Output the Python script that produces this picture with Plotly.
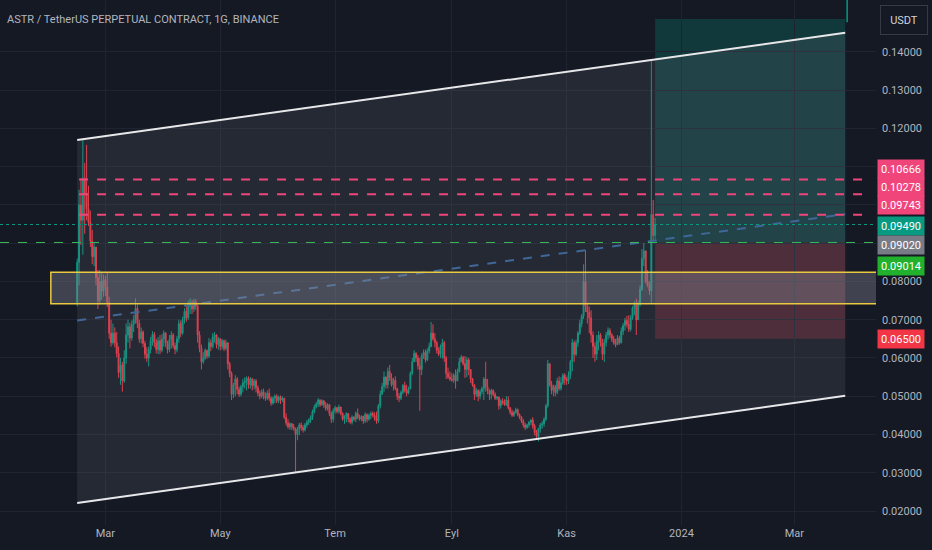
import pandas as pd
import plotly.graph_objects as go

# daily ASTR/USDT candles, starting 2023-02-14
start_date = "2023-02-14"
first_open = 0.0745
close = [
    0.0850, 0.1000, 0.0960, 0.1070, 0.1030, 0.0990, 0.0955, 0.0905, 0.0865, 0.0890,
    0.0810, 0.0750, 0.0800, 0.0775, 0.0805, 0.0785, 0.0745, 0.0665, 0.0640, 0.0665,
    0.0640, 0.0612, 0.0562, 0.0582, 0.0540, 0.0600, 0.0660, 0.0682, 0.0652, 0.0688,
    0.0700, 0.0730, 0.0690, 0.0650, 0.0668, 0.0638, 0.0610, 0.0600, 0.0622, 0.0645,
    0.0662, 0.0640, 0.0622, 0.0645, 0.0620, 0.0650, 0.0665, 0.0640, 0.0622, 0.0648,
    0.0660, 0.0632, 0.0622, 0.0650, 0.0690, 0.0665, 0.0700, 0.0722, 0.0705, 0.0735,
    0.0745, 0.0728, 0.0748, 0.0735, 0.0660, 0.0625, 0.0590, 0.0600, 0.0620, 0.0605,
    0.0640, 0.0630, 0.0655, 0.0660, 0.0635, 0.0650, 0.0630, 0.0645, 0.0625, 0.0640,
    0.0585, 0.0560, 0.0505, 0.0530, 0.0545, 0.0518, 0.0505, 0.0525, 0.0535, 0.0540,
    0.0547, 0.0530, 0.0545, 0.0528, 0.0540, 0.0522, 0.0508, 0.0500, 0.0512, 0.0500,
    0.0495, 0.0508, 0.0495, 0.0482, 0.0495, 0.0500, 0.0488, 0.0498, 0.0490, 0.0495,
    0.0445, 0.0430, 0.0420, 0.0428, 0.0420, 0.0415, 0.0400, 0.0415, 0.0425, 0.0418,
    0.0412, 0.0425, 0.0432, 0.0438, 0.0445, 0.0460, 0.0472, 0.0480, 0.0490, 0.0478,
    0.0488, 0.0478, 0.0468, 0.0478, 0.0455, 0.0440, 0.0462, 0.0470, 0.0460, 0.0472,
    0.0455, 0.0440, 0.0448, 0.0455, 0.0440, 0.0432, 0.0445, 0.0440, 0.0455, 0.0445,
    0.0440, 0.0448, 0.0435, 0.0452, 0.0440, 0.0450, 0.0455, 0.0450, 0.0442, 0.0436,
    0.0475, 0.0505, 0.0525, 0.0550, 0.0530, 0.0565, 0.0548, 0.0530, 0.0542, 0.0520,
    0.0500, 0.0495, 0.0510, 0.0528, 0.0515, 0.0508, 0.0520, 0.0560, 0.0590, 0.0612,
    0.0600, 0.0580, 0.0570, 0.0605, 0.0615, 0.0595, 0.0618, 0.0630, 0.0665, 0.0650,
    0.0640, 0.0620, 0.0610, 0.0630, 0.0640, 0.0600, 0.0560, 0.0550, 0.0545, 0.0542,
    0.0555, 0.0540, 0.0565, 0.0590, 0.0602, 0.0585, 0.0570, 0.0595, 0.0570, 0.0545,
    0.0530, 0.0505, 0.0515, 0.0500, 0.0512, 0.0520, 0.0545, 0.0525, 0.0515, 0.0505,
    0.0515, 0.0505, 0.0495, 0.0498, 0.0475, 0.0488, 0.0482, 0.0478, 0.0490, 0.0470,
    0.0458, 0.0450, 0.0458, 0.0465, 0.0452, 0.0445, 0.0435, 0.0425, 0.0418, 0.0425,
    0.0432, 0.0438, 0.0422, 0.0405, 0.0395, 0.0415, 0.0425, 0.0428, 0.0440, 0.0475,
    0.0585, 0.0530, 0.0515, 0.0525, 0.0510, 0.0540, 0.0520, 0.0535, 0.0555, 0.0545,
    0.0540, 0.0555, 0.0590, 0.0640, 0.0610, 0.0640, 0.0665, 0.0690, 0.0710, 0.0800,
    0.0735, 0.0720, 0.0705, 0.0660, 0.0630, 0.0610, 0.0645, 0.0660, 0.0640, 0.0610,
    0.0640, 0.0660, 0.0672, 0.0660, 0.0650, 0.0640, 0.0635, 0.0652, 0.0640, 0.0670,
    0.0685, 0.0698, 0.0688, 0.0675, 0.0705, 0.0730, 0.0740, 0.0700, 0.0740, 0.0780,
    0.0860, 0.0880, 0.0800, 0.0790, 0.0775, 0.0975, 0.0920, 0.0949,
]
high = [
    0.0860, 0.1040, 0.1070, 0.1170, 0.1110, 0.1157, 0.1050, 0.0985, 0.0935, 0.0900,
    0.0890, 0.0830, 0.0830, 0.0822, 0.0818, 0.0815, 0.0822, 0.0760, 0.0700, 0.0690,
    0.0680, 0.0668, 0.0630, 0.0600, 0.0590, 0.0620, 0.0690, 0.0700, 0.0692, 0.0698,
    0.0712, 0.0756, 0.0740, 0.0700, 0.0680, 0.0672, 0.0645, 0.0628, 0.0630, 0.0655,
    0.0670, 0.0668, 0.0650, 0.0655, 0.0660, 0.0662, 0.0672, 0.0668, 0.0645, 0.0660,
    0.0670, 0.0665, 0.0640, 0.0658, 0.0700, 0.0698, 0.0708, 0.0730, 0.0735, 0.0750,
    0.0756, 0.0752, 0.0755, 0.0754, 0.0740, 0.0670, 0.0635, 0.0615, 0.0625, 0.0622,
    0.0652, 0.0648, 0.0665, 0.0668, 0.0662, 0.0655, 0.0652, 0.0650, 0.0648, 0.0648,
    0.0635, 0.0590, 0.0565, 0.0535, 0.0555, 0.0550, 0.0525, 0.0530, 0.0545, 0.0550,
    0.0552, 0.0552, 0.0550, 0.0548, 0.0545, 0.0545, 0.0528, 0.0515, 0.0518, 0.0520,
    0.0510, 0.0515, 0.0520, 0.0500, 0.0500, 0.0505, 0.0505, 0.0502, 0.0502, 0.0500,
    0.0495, 0.0455, 0.0440, 0.0432, 0.0430, 0.0428, 0.0418, 0.0420, 0.0430, 0.0432,
    0.0425, 0.0430, 0.0438, 0.0442, 0.0450, 0.0465, 0.0478, 0.0485, 0.0495, 0.0492,
    0.0492, 0.0490, 0.0485, 0.0482, 0.0480, 0.0460, 0.0468, 0.0475, 0.0472, 0.0478,
    0.0470, 0.0458, 0.0450, 0.0458, 0.0455, 0.0445, 0.0450, 0.0448, 0.0460, 0.0468,
    0.0452, 0.0450, 0.0448, 0.0458, 0.0455, 0.0455, 0.0460, 0.0460, 0.0458, 0.0460,
    0.0480, 0.0515, 0.0535, 0.0565, 0.0552, 0.0575, 0.0582, 0.0560, 0.0548, 0.0552,
    0.0522, 0.0508, 0.0515, 0.0532, 0.0538, 0.0530, 0.0525, 0.0565, 0.0600, 0.0620,
    0.0615, 0.0608, 0.0600, 0.0612, 0.0622, 0.0622, 0.0625, 0.0640, 0.0694, 0.0688,
    0.0665, 0.0645, 0.0628, 0.0635, 0.0650, 0.0645, 0.0605, 0.0575, 0.0565, 0.0560,
    0.0560, 0.0570, 0.0572, 0.0600, 0.0608, 0.0605, 0.0605, 0.0603, 0.0600, 0.0570,
    0.0548, 0.0528, 0.0522, 0.0518, 0.0518, 0.0525, 0.0550, 0.0590, 0.0545, 0.0518,
    0.0520, 0.0518, 0.0510, 0.0500, 0.0498, 0.0492, 0.0495, 0.0492, 0.0500, 0.0500,
    0.0472, 0.0465, 0.0462, 0.0470, 0.0468, 0.0455, 0.0448, 0.0440, 0.0430, 0.0428,
    0.0435, 0.0440, 0.0445, 0.0428, 0.0412, 0.0418, 0.0430, 0.0435, 0.0445, 0.0480,
    0.0595, 0.0580, 0.0540, 0.0530, 0.0530, 0.0548, 0.0552, 0.0550, 0.0560, 0.0560,
    0.0550, 0.0565, 0.0595, 0.0650, 0.0645, 0.0648, 0.0670, 0.0700, 0.0715, 0.0845,
    0.0882, 0.0745, 0.0735, 0.0725, 0.0670, 0.0640, 0.0660, 0.0670, 0.0665, 0.0650,
    0.0650, 0.0668, 0.0680, 0.0678, 0.0665, 0.0658, 0.0650, 0.0660, 0.0658, 0.0680,
    0.0692, 0.0705, 0.0710, 0.0712, 0.0712, 0.0735, 0.0748, 0.0755, 0.0750, 0.0790,
    0.0885, 0.0901, 0.0865, 0.0830, 0.0800, 0.1379, 0.1013, 0.0966,
]
low = [
    0.0735, 0.0790, 0.0895, 0.0870, 0.0925, 0.0960, 0.0945, 0.0890, 0.0845, 0.0840,
    0.0790, 0.0728, 0.0740, 0.0752, 0.0760, 0.0762, 0.0733, 0.0650, 0.0630, 0.0635,
    0.0628, 0.0602, 0.0548, 0.0530, 0.0512, 0.0535, 0.0585, 0.0640, 0.0625, 0.0645,
    0.0668, 0.0690, 0.0678, 0.0640, 0.0638, 0.0628, 0.0598, 0.0590, 0.0578, 0.0612,
    0.0632, 0.0628, 0.0612, 0.0610, 0.0610, 0.0615, 0.0630, 0.0628, 0.0612, 0.0615,
    0.0625, 0.0625, 0.0610, 0.0615, 0.0640, 0.0655, 0.0660, 0.0690, 0.0695, 0.0700,
    0.0715, 0.0715, 0.0720, 0.0725, 0.0640, 0.0615, 0.0570, 0.0585, 0.0595, 0.0598,
    0.0600, 0.0618, 0.0625, 0.0640, 0.0625, 0.0622, 0.0620, 0.0622, 0.0618, 0.0620,
    0.0570, 0.0550, 0.0490, 0.0495, 0.0500, 0.0505, 0.0498, 0.0500, 0.0510, 0.0520,
    0.0515, 0.0520, 0.0520, 0.0515, 0.0518, 0.0510, 0.0500, 0.0492, 0.0495, 0.0492,
    0.0488, 0.0490, 0.0488, 0.0475, 0.0478, 0.0482, 0.0482, 0.0482, 0.0480, 0.0485,
    0.0440, 0.0423, 0.0415, 0.0412, 0.0412, 0.0410, 0.0302, 0.0385, 0.0398, 0.0410,
    0.0405, 0.0408, 0.0418, 0.0425, 0.0430, 0.0438, 0.0455, 0.0468, 0.0472, 0.0472,
    0.0475, 0.0470, 0.0462, 0.0462, 0.0448, 0.0430, 0.0432, 0.0455, 0.0455, 0.0455,
    0.0450, 0.0436, 0.0428, 0.0432, 0.0432, 0.0428, 0.0426, 0.0435, 0.0432, 0.0440,
    0.0436, 0.0435, 0.0428, 0.0430, 0.0432, 0.0436, 0.0440, 0.0445, 0.0436, 0.0428,
    0.0430, 0.0468, 0.0505, 0.0512, 0.0520, 0.0520, 0.0540, 0.0525, 0.0515, 0.0515,
    0.0490, 0.0485, 0.0490, 0.0505, 0.0510, 0.0500, 0.0505, 0.0518, 0.0555, 0.0590,
    0.0590, 0.0570, 0.0462, 0.0555, 0.0598, 0.0588, 0.0592, 0.0612, 0.0628, 0.0645,
    0.0628, 0.0612, 0.0605, 0.0600, 0.0598, 0.0590, 0.0545, 0.0545, 0.0540, 0.0538,
    0.0535, 0.0520, 0.0540, 0.0562, 0.0592, 0.0580, 0.0548, 0.0550, 0.0555, 0.0535,
    0.0525, 0.0490, 0.0498, 0.0487, 0.0492, 0.0505, 0.0490, 0.0512, 0.0505, 0.0490,
    0.0492, 0.0500, 0.0490, 0.0490, 0.0465, 0.0468, 0.0478, 0.0475, 0.0475, 0.0465,
    0.0452, 0.0446, 0.0446, 0.0455, 0.0448, 0.0440, 0.0430, 0.0418, 0.0412, 0.0415,
    0.0418, 0.0425, 0.0415, 0.0398, 0.0391, 0.0382, 0.0405, 0.0415, 0.0420, 0.0435,
    0.0470, 0.0525, 0.0505, 0.0500, 0.0500, 0.0505, 0.0515, 0.0515, 0.0530, 0.0530,
    0.0530, 0.0532, 0.0545, 0.0565, 0.0590, 0.0605, 0.0630, 0.0660, 0.0680, 0.0702,
    0.0720, 0.0690, 0.0665, 0.0640, 0.0600, 0.0590, 0.0595, 0.0620, 0.0630, 0.0595,
    0.0590, 0.0630, 0.0648, 0.0652, 0.0642, 0.0635, 0.0628, 0.0635, 0.0635, 0.0638,
    0.0660, 0.0672, 0.0680, 0.0668, 0.0670, 0.0700, 0.0712, 0.0660, 0.0705, 0.0735,
    0.0775, 0.0840, 0.0795, 0.0785, 0.0765, 0.0743, 0.0905, 0.0905,
]

# drawings on the chart
channel_dates = ["2023-02-14", "2024-03-28"]
channel_upper = [0.1170, 0.1450]
channel_lower = [0.0221, 0.0501]
trend_line = [0.0698, 0.0976]
zone_dates = ["2023-01-31", "2024-04-20"]
zone_prices = [0.0742, 0.0824]
pink_levels = [0.10666, 0.10278, 0.09743]
pink_dates = ["2023-02-15", "2024-04-08"]
last_price = 0.09490
entry_price = 0.09020
green_level = 0.09014
stop_price = 0.06500
target_price = 0.1486
position_dates = ["2023-12-18", "2024-03-28"]
marker_date = "2024-03-29"
marker_prices = [0.1478, 0.1540]

month_ticks = ["2023-03-01", "2023-05-01", "2023-07-01", "2023-09-01",
               "2023-11-01", "2024-01-01", "2024-03-01"]
month_labels = ["Mar", "May", "Tem", "Eyl", "Kas", "2024", "Mar"]
price_ticks = [0.02, 0.03, 0.04, 0.05, 0.06, 0.07, 0.08, 0.09, 0.10, 0.11,
               0.12, 0.13, 0.14]
hidden_ticks = [0.09, 0.10, 0.11]

BG = "#151924"
GRID = "#202430"
TEXT = "#b2b5be"
UP = "#089981"
DOWN = "#f23645"
PINK = "#f0457b"
FONT = "Roboto, sans-serif"

dates = pd.date_range(start_date, periods=len(close), freq="D")
opens = [first_open] + close[:-1]

fig = go.Figure()

# channel body
fig.add_trace(go.Scatter(
    x=[channel_dates[0], channel_dates[1], channel_dates[1], channel_dates[0], channel_dates[0]],
    y=[channel_upper[0], channel_upper[1], channel_lower[1], channel_lower[0], channel_upper[0]],
    fill="toself", fillcolor="rgba(120,123,134,0.17)", mode="none",
    hoverinfo="skip", showlegend=False))

# long position box
fig.add_shape(type="rect", x0=position_dates[0], x1=position_dates[1],
              y0=entry_price, y1=target_price, fillcolor="rgba(8,153,129,0.25)",
              line_width=0, layer="below")
fig.add_shape(type="rect", x0=position_dates[0], x1=position_dates[1],
              y0=stop_price, y1=entry_price, fillcolor="rgba(242,54,69,0.22)",
              line_width=0, layer="below")

# yellow zone
fig.add_shape(type="rect", x0=zone_dates[0], x1=zone_dates[1],
              y0=zone_prices[0], y1=zone_prices[1],
              fillcolor="rgba(135,138,150,0.38)",
              line=dict(color="#e9c93f", width=1.5))

# horizontal levels
fig.add_hline(y=last_price, line=dict(color=UP, width=1, dash="dot"))
fig.add_hline(y=entry_price, line=dict(color="#3cb95a", width=1, dash="dash"))
for lvl in pink_levels:
    fig.add_shape(type="line", x0=pink_dates[0], x1=pink_dates[1], y0=lvl, y1=lvl,
                  line=dict(color=PINK, width=2, dash="9px,9px"))

# trend line
fig.add_trace(go.Scatter(x=channel_dates, y=trend_line, mode="lines",
                         line=dict(color="#3f6797", width=2, dash="dash"),
                         hoverinfo="skip", showlegend=False))

fig.add_trace(go.Candlestick(
    x=dates, open=opens, high=high, low=low, close=close,
    increasing=dict(line=dict(color=UP, width=1), fillcolor=UP),
    decreasing=dict(line=dict(color=DOWN, width=1), fillcolor=DOWN),
    whiskerwidth=0, hoverinfo="skip", showlegend=False))

# channel borders
for edge in (channel_upper, channel_lower):
    fig.add_trace(go.Scatter(x=channel_dates, y=edge, mode="lines",
                             line=dict(color="#e8e8ea", width=2),
                             hoverinfo="skip", showlegend=False))

fig.add_shape(type="line", x0=marker_date, x1=marker_date,
              y0=marker_prices[0], y1=marker_prices[1],
              line=dict(color=UP, width=1.5))

# price badges on the scale (stacked like TradingView does)
badges = [
    ("0.10666", pink_levels[0], PINK, 11),
    ("0.10278", pink_levels[1], PINK, 7),
    ("0.09743", pink_levels[2], PINK, 10),
    ("0.09490", last_price, UP, -1),
    ("0.09020", entry_price, "#787b86", -3),
    ("0.09014", green_level, "#22b12d", -23),
    ("0.06500", stop_price, DOWN, 0),
]
for txt, price, col, shift in badges:
    fig.add_annotation(x=1, xref="paper", y=price, yref="y", xanchor="left",
                       xshift=1, yshift=shift, text=txt, showarrow=False,
                       bgcolor=col, width=46, height=18, borderpad=0,
                       font=dict(color="white", size=11, family=FONT))

fig.add_annotation(x=0, y=1, xref="paper", yref="paper", xanchor="left",
                   yanchor="top", xshift=5, yshift=-11, showarrow=False,
                   text="ASTR / TetherUS PERPETUAL CONTRACT, 1G, BINANCE",
                   font=dict(color=TEXT, size=11, family=FONT))
fig.add_annotation(x=1, y=1, xref="paper", yref="paper", xanchor="left",
                   yanchor="top", xshift=4, yshift=-5, showarrow=False,
                   text="USDT", bgcolor=BG, bordercolor="#363a45", borderwidth=1,
                   width=40, height=22, borderpad=3,
                   font=dict(color="#d1d4dc", size=11, family=FONT))

tick_text = ["" if t in hidden_ticks else f"{t:.5f}" for t in price_ticks]

fig.update_layout(
    width=932, height=550,
    margin=dict(l=0, r=56, t=0, b=25, autoexpand=False),
    paper_bgcolor=BG, plot_bgcolor=BG,
    font=dict(family=FONT, color=TEXT, size=11),
    showlegend=False,
    xaxis=dict(range=["2023-01-04", "2024-04-13 08:00"], type="date",
               tickvals=month_ticks, ticktext=month_labels,
               showgrid=True, gridcolor=GRID, zeroline=False,
               rangeslider=dict(visible=False), fixedrange=True,
               ticks="", tickfont=dict(size=11, color=TEXT)),
    yaxis=dict(range=[0.01634, 0.15359], side="right",
               tickvals=price_ticks, ticktext=tick_text,
               showgrid=True, gridcolor=GRID, zeroline=False,
               ticks="", ticklabelstandoff=5, tickfont=dict(size=11, color=TEXT)),
)

# drop the browser's default page margin so the figure fills the window
fig.write_html("out.html", config={"displayModeBar": False},
               post_script="document.body.style.margin='0';"
                           "document.body.style.background='" + BG + "';")
